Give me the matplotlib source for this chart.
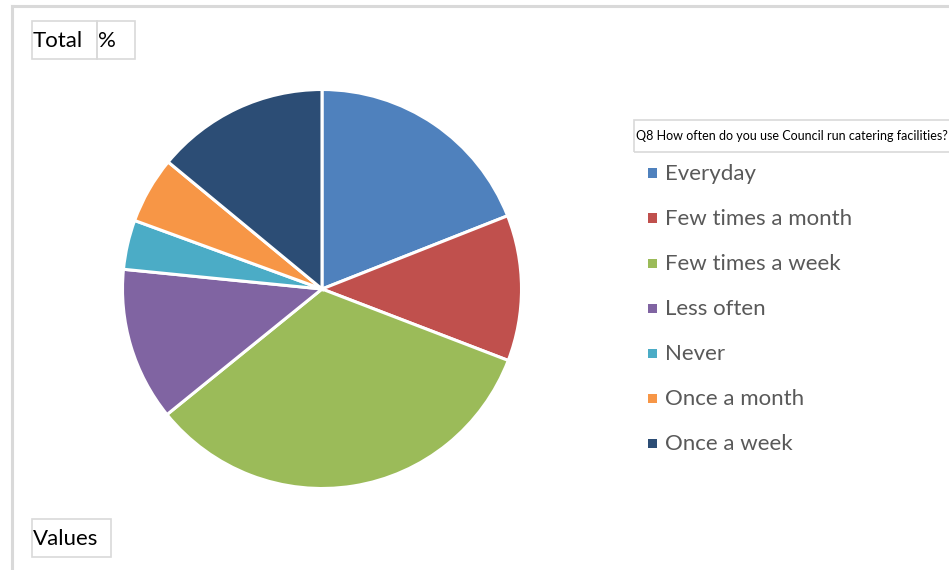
import matplotlib
matplotlib.use("Agg")
import matplotlib.pyplot as plt
from matplotlib.patches import Rectangle
from matplotlib.lines import Line2D

categories = ["Everyday", "Few times a month", "Few times a week", "Less often",
              "Never", "Once a month", "Once a week"]
values = [19.0, 11.8, 33.3, 12.4, 4.0, 5.4, 14.0]
colors = ["#4F81BD", "#C0504D", "#9BBB59", "#8064A2", "#4BACC6", "#F79646", "#2C4D75"]
legend_title = "Q8 How often do you use Council run catering facilities?"

W, H = 949, 570
plt.rcParams['font.family'] = ['Lato', 'DejaVu Sans']
fig = plt.figure(figsize=(W / 100, H / 100), dpi=100)

def fx(x):
    return x / W

def fy(y):
    return 1 - y / H

# pie axes: centre (322, 289), radius ~199.5 px
cx, cy, r = 322, 289, 199.5
ax = fig.add_axes([fx(cx - r), fy(cy + r), 2 * r / W, 2 * r / H])
ax.pie(values, colors=colors, startangle=90, counterclock=False, radius=1,
       wedgeprops=dict(edgecolor="white", linewidth=2.2))
ax.set_xlim(-1, 1)
ax.set_ylim(-1, 1)
ax.set_aspect("auto")
ax.axis("off")

# outer frame lines
fig.add_artist(Line2D([fx(11.5), fx(11.5)], [fy(6), 0], color="#D9D9D9", lw=2.2))
fig.add_artist(Line2D([fx(11.5), 1], [fy(6), fy(6)], color="#D9D9D9", lw=2.2))

def box(x0, y0, x1, y1):
    fig.add_artist(Rectangle((fx(x0), fy(y1)), (x1 - x0) / W, (y1 - y0) / H,
                             fill=False, edgecolor="#D9D9D9", lw=1.2))

box(32, 21, 97, 59)
box(97, 21, 135, 59)
fig.text(fx(33), fy(41), "Total", fontsize=16, color="black", va="center", ha="left")
fig.text(fx(98), fy(41), "%", fontsize=16, color="black", va="center", ha="left")

box(32, 519, 111, 557)
fig.text(fx(33), fy(539), "Values", fontsize=16, color="black", va="center", ha="left")

box(634, 120, 951, 152)
fig.text(fx(636), fy(136), legend_title, fontsize=9.0, color="black", va="center", ha="left")

# legend entries
for i, (lab, c) in enumerate(zip(categories, colors)):
    y = 173 + 45 * i
    fig.add_artist(Rectangle((fx(648), fy(y + 4.5)), 9 / W, 9 / H,
                             facecolor=c, edgecolor="none"))
    fig.text(fx(665), fy(y + 1), lab, fontsize=16, color="#595959", va="center", ha="left")

fig.savefig("out.png", dpi=100, facecolor="white")
